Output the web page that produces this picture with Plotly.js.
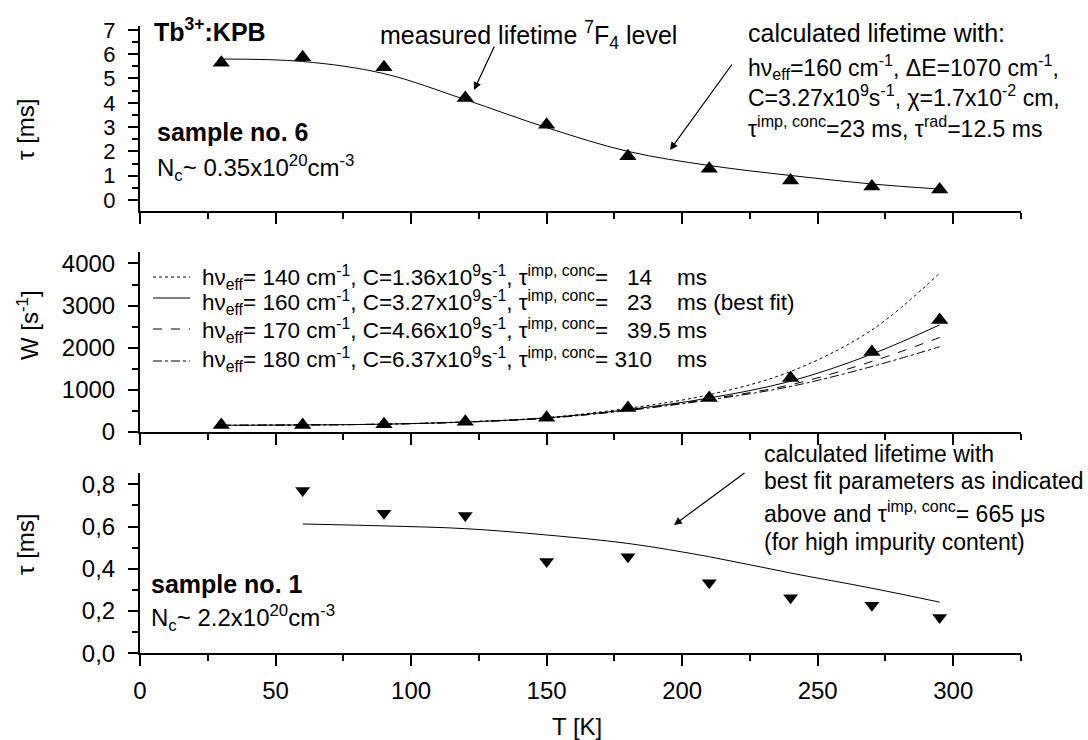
<!DOCTYPE html>
<html>
<head>
<meta charset="utf-8">
<script src="https://cdn.plot.ly/plotly-3.0.1.min.js"></script>
<style>html,body{margin:0;padding:0;background:#fff;}#chart{width:1088px;height:740px;}</style>
</head>
<body>
<div id="chart"></div>
<script>
// ---------- data ----------
const T_top = [30, 60, 90, 120, 150, 180, 210, 240, 270, 295];
const tau_top_meas = [5.65, 5.87, 5.46, 4.2, 3.1, 1.8, 1.29, 0.8, 0.56, 0.43];
const tau_top_calc = [5.8, 5.7, 5.2, 4.13, 2.98, 2.0, 1.42, 1.01, 0.66, 0.45];

const T_mid = [30, 60, 90, 120, 150, 180, 210, 240, 270, 295];
const W_meas = [160, 160, 175, 235, 330, 560, 800, 1275, 1893, 2653];
const W_140 = [150, 160, 180, 235, 335, 555, 880, 1430, 2420, 3770];
const W_160 = [152, 160, 178, 230, 328, 525, 800, 1200, 1845, 2540];
const W_170 = [150, 160, 178, 228, 322, 510, 775, 1115, 1670, 2240];
const W_180 = [150, 160, 178, 226, 320, 505, 755, 1075, 1550, 2020];

const T_bot = [60, 90, 120, 150, 180, 210, 240, 270, 295];
const tau_bot_meas = [0.77, 0.663, 0.652, 0.434, 0.457, 0.334, 0.263, 0.227, 0.169];
const tau_bot_calc = [0.612, 0.603, 0.59, 0.56, 0.52, 0.457, 0.38, 0.308, 0.242];

const legendNames = [
  "h\u03bd<sub>eff</sub>= 140 cm<sup>-1</sup>, C=1.36x10<sup>9</sup>s<sup>-1</sup>, \u03c4<sup>imp, conc</sup>=\u00a0\u00a0 14\u00a0\u00a0\u00a0 ms",
  "h\u03bd<sub>eff</sub>= 160 cm<sup>-1</sup>, C=3.27x10<sup>9</sup>s<sup>-1</sup>, \u03c4<sup>imp, conc</sup>=\u00a0\u00a0 23\u00a0\u00a0\u00a0 ms (best fit)",
  "h\u03bd<sub>eff</sub>= 170 cm<sup>-1</sup>, C=4.66x10<sup>9</sup>s<sup>-1</sup>, \u03c4<sup>imp, conc</sup>=\u00a0\u00a0 39.5 ms",
  "h\u03bd<sub>eff</sub>= 180 cm<sup>-1</sup>, C=6.37x10<sup>9</sup>s<sup>-1</sup>, \u03c4<sup>imp, conc</sup>= 310\u00a0\u00a0\u00a0 ms"
];
const legendDashes = ["dot", "solid", "dash", "dashdot"];

const xTickVals = [0, 50, 100, 150, 200, 250, 300];
const xTickText = ["0", "50", "100", "150", "200", "250", "300"];
const yTopTicks = [0, 1, 2, 3, 4, 5, 6, 7];
const yMidTicks = [0, 1000, 2000, 3000, 4000];
const yBotTicks = [0, 0.2, 0.4, 0.6, 0.8];
const yBotText = ["0,0", "0,2", "0,4", "0,6", "0,8"];

// ---------- helpers ----------
const W = 1088, H = 740;
const X = p => p / W;
const Y = p => 1 - p / H;
const FONT = "Liberation Sans, Arial, Helvetica, sans-serif";

const traces = [];
// top
traces.push({x: T_top, y: tau_top_calc, xaxis: 'x', yaxis: 'y', mode: 'lines',
  line: {color: '#000', width: 1, shape: 'spline'}, showlegend: false});
traces.push({x: T_top, y: tau_top_meas, xaxis: 'x', yaxis: 'y', mode: 'markers',
  marker: {symbol: 'triangle-up', size: 15, color: '#000'}, showlegend: false});
// middle
const midSeries = [W_140, W_160, W_170, W_180];
midSeries.forEach((s, i) => {
  traces.push({x: T_mid, y: s, xaxis: 'x2', yaxis: 'y2', mode: 'lines',
    line: {color: '#000', width: 1, dash: legendDashes[i], shape: 'spline'}, showlegend: false});
});
traces.push({x: T_mid, y: W_meas, xaxis: 'x2', yaxis: 'y2', mode: 'markers',
  marker: {symbol: 'triangle-up', size: 15, color: '#000'}, showlegend: false});
// bottom
traces.push({x: T_bot, y: tau_bot_calc, xaxis: 'x3', yaxis: 'y3', mode: 'lines',
  line: {color: '#000', width: 1, shape: 'spline'}, showlegend: false});
traces.push({x: T_bot, y: tau_bot_meas, xaxis: 'x3', yaxis: 'y3', mode: 'markers',
  marker: {symbol: 'triangle-down', size: 13, color: '#000'}, showlegend: false});

const xDom = [X(140), X(1021)];
function xAxis(showLabels, anchor) {
  return {
    domain: xDom, anchor: anchor, range: [0, 325], showline: true, linewidth: 2, linecolor: '#000',
    showgrid: false, zeroline: false, ticks: 'outside', ticklen: 11, tickwidth: 2, tickcolor: '#000',
    tickmode: 'array', tickvals: xTickVals, ticktext: xTickText, showticklabels: showLabels,
    ticklabelstandoff: 4,
    minor: {ticks: 'outside', ticklen: 6, tickwidth: 2, tickcolor: '#000', tickmode: 'linear', tick0: 0, dtick: 25},
    tickfont: {family: FONT, size: 24, color: '#000'}
  };
}
function yAxis(dom, range, vals, text, minorD, anchor, fsize) {
  return {
    domain: dom, anchor: anchor, range: range, showline: true, linewidth: 2, linecolor: '#000',
    showgrid: false, zeroline: false, ticks: 'outside', ticklen: 10, tickwidth: 2, tickcolor: '#000',
    tickmode: 'array', tickvals: vals, ticktext: text, ticklabelstandoff: 8,
    minor: {ticks: 'outside', ticklen: 6, tickwidth: 2, tickcolor: '#000', tickmode: 'linear', tick0: 0, dtick: minorD},
    tickfont: {family: FONT, size: fsize, color: '#000'}
  };
}

const ann = [];
function txt(x, y, text, size, opts) {
  ann.push(Object.assign({xref: 'paper', yref: 'paper', x: X(x), y: Y(y), text: text, showarrow: false,
    xanchor: 'left', yanchor: 'middle', font: {family: FONT, size: size, color: '#000'}}, opts || {}));
}
function arrow(hx, hy, tx, ty) {
  ann.push({xref: 'paper', yref: 'paper', x: X(hx), y: Y(hy), ax: tx - hx, ay: ty - hy, text: '',
    showarrow: true, arrowhead: 2, arrowsize: 1.3, arrowwidth: 1.2, arrowcolor: '#000'});
}

// top panel texts
txt(152, 30, "<b>Tb<sup>3+</sup>:KPB</b>", 25);
txt(155, 132, "<b>sample no. 6</b>", 25);
txt(155, 168, "N<sub>c</sub>~ 0.35x10<sup>20</sup>cm<sup>-3</sup>", 24);
txt(378, 35, "measured lifetime <sup>7</sup>F<sub>4</sub> level", 25);
txt(746, 33, "calculated lifetime with:", 25);
txt(746, 67, "h\u03bd<sub>eff</sub>=160 cm<sup>-1</sup>, \u0394E=1070 cm<sup>-1</sup>,", 23);
txt(746, 96, "C=3.27x10<sup>9</sup>s<sup>-1</sup>, \u03c7=1.7x10<sup>-2</sup> cm,", 23);
txt(746, 127, "\u03c4<sup>imp, conc</sup>=23 ms, \u03c4<sup>rad</sup>=12.5 ms", 23);
arrow(474, 90, 495, 45);
arrow(670, 150, 733, 63);

// middle legend (text)
const legRowY = [277, 303, 330, 359];
legendNames.forEach((n, i) => txt(200, legRowY[i], n, 22.5));

// bottom panel texts
txt(149, 584, "<b>sample no. 1</b>", 25);
txt(149, 618, "N<sub>c</sub>~ 2.2x10<sup>20</sup>cm<sup>-3</sup>", 24);
txt(762, 454, "calculated lifetime with", 23);
txt(762, 481, "best fit parameters as indicated", 23);
txt(762, 512, "above and \u03c4<sup>imp, conc</sup>= 665 \u03bcs", 23);
txt(762, 542, "(for high impurity content)", 23);
arrow(674, 525, 746, 472);

// axis titles
txt(25, 130, "\u03c4 [ms]", 24, {xanchor: 'center', textangle: -90});
txt(28, 325, "W [s<sup>-1</sup>]", 24, {xanchor: 'center', textangle: -90});
txt(25, 545, "\u03c4 [ms]", 24, {xanchor: 'center', textangle: -90});
txt(577, 726, "T [K]", 24, {xanchor: 'center'});

// legend line samples
const shapes = [];
const legLineY = [277, 298, 329, 361];
legendDashes.forEach((d, i) => {
  shapes.push({type: 'line', xref: 'paper', yref: 'paper', x0: X(153), x1: X(190), y0: Y(legLineY[i]), y1: Y(legLineY[i]),
    line: {color: '#000', width: 1, dash: d}});
});

const layout = {
  width: W, height: H, margin: {l: 0, r: 0, t: 0, b: 0},
  paper_bgcolor: '#fff', plot_bgcolor: 'rgba(0,0,0,0)', showlegend: false,
  font: {family: FONT, color: '#000'},
  xaxis: xAxis(false, 'y'),
  yaxis: yAxis([Y(210.7), Y(26)], [-0.44, 7.16], yTopTicks, yTopTicks.map(String), 0.5, 'x', 22),
  xaxis2: Object.assign(xAxis(false, 'y2'), {matches: 'x'}),
  yaxis2: yAxis([Y(432.3), Y(251.7)], [-15, 4280], yMidTicks, yMidTicks.map(String), 500, 'x2', 24),
  xaxis3: Object.assign(xAxis(true, 'y3'), {matches: 'x'}),
  yaxis3: yAxis([Y(653.3), Y(473.3)], [0, 0.852], yBotTicks, yBotText, 0.1, 'x3', 24),
  annotations: ann, shapes: shapes
};

Plotly.newPlot('chart', traces, layout, {staticPlot: true, displayModeBar: false});
</script>
</body>
</html>
